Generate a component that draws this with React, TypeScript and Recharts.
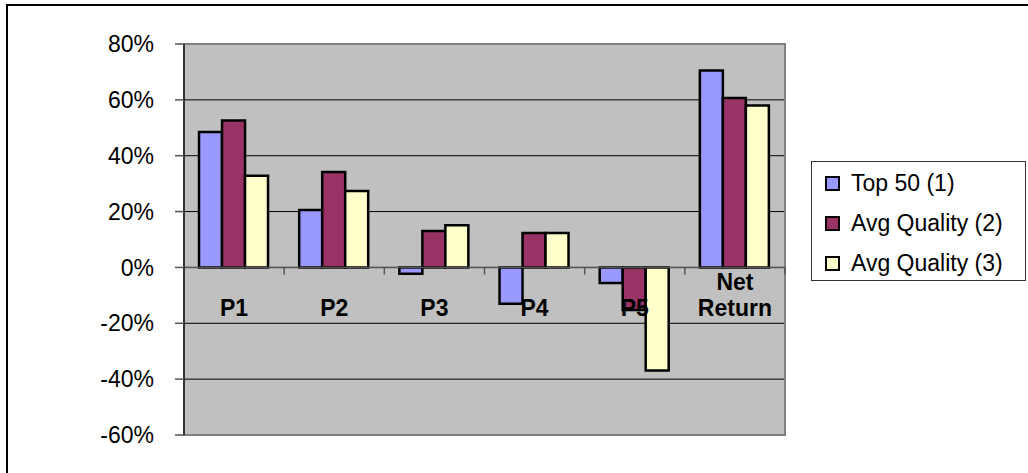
import { Bar, BarChart, CartesianGrid, Legend, ReferenceArea, ReferenceLine, XAxis, YAxis } from 'recharts';

const categories = ['P1', 'P2', 'P3', 'P4', 'P5', 'Net Return'];
const top50 = [48.5, 20.6, -2.3, -13.0, -5.6, 70.5];
const avgQuality2 = [52.6, 34.2, 13.0, 12.3, -15.2, 60.7];
const avgQuality3 = [32.8, 27.4, 15.1, 12.3, -36.9, 58.0];
const yTicks = [-60, -40, -20, 0, 20, 40, 60, 80];

const seriesNames = ['Top 50 (1)', 'Avg Quality (2)', 'Avg Quality (3)'];
const seriesColors = ['#9999FF', '#993366', '#FFFFCC'];

const data = categories.map((name, i) => ({
    name,
    s1: top50[i],
    s2: avgQuality2[i],
    s3: avgQuality3[i],
}));

const W = 1028;
const H = 473;
const MARGIN = { top: 44, right: 28, bottom: 37, left: 0 };
const Y_AXIS_W = 184;
const LEGEND_W = 215;
const PLOT_H = H - MARGIN.top - MARGIN.bottom - 1;
const PLOT_W = W - Y_AXIS_W - MARGIN.right - LEGEND_W;
const Y_MIN = -60;
const Y_MAX = 80;
const ZERO_Y = MARGIN.top + ((Y_MAX - 0) / (Y_MAX - Y_MIN)) * PLOT_H;
const BAND = PLOT_W / categories.length;
const FONT = '"Liberation Sans", Arial, sans-serif';

const CategoryTick = (props: any) => {
    const { x, payload } = props;
    const lines = String(payload.value).split(' ');
    return (
        <g>
            <line x1={x + BAND / 2} x2={x + BAND / 2} y1={ZERO_Y} y2={ZERO_Y + 7} stroke="#555" strokeWidth={1.5} />
            <text textAnchor="middle" fontFamily={FONT} fontSize={23} fontWeight="bold" fill="#000">
                {lines.map((l, i) => (
                    <tspan key={i} x={x} y={ZERO_Y + 49 - (lines.length - 1 - i) * 26.5}>
                        {l}
                    </tspan>
                ))}
            </text>
        </g>
    );
};

const LegendBox = () => (
    <div
        style={{
            width: LEGEND_W,
            height: 120,
            boxSizing: 'border-box',
            border: '1px solid #333',
            background: '#fff',
            fontFamily: FONT,
            fontSize: 23,
            color: '#000',
            paddingTop: 1,
        }}
    >
        {seriesNames.map((n, i) => (
            <div key={n} style={{ height: 40, display: 'flex', alignItems: 'center' }}>
                <span
                    style={{
                        display: 'inline-block',
                        width: 11,
                        height: 11,
                        marginLeft: 13,
                        marginRight: 11,
                        border: '2px solid #000',
                        background: seriesColors[i],
                    }}
                />
                <span>{n}</span>
            </div>
        ))}
    </div>
);

export default function App() {
    return (
        <div style={{ position: 'absolute', left: 0, top: 0, width: W, height: H, overflow: 'hidden', background: '#fff' }}>
            <div
                style={{
                    position: 'absolute',
                    left: 6,
                    top: 4,
                    width: W + 20,
                    height: H + 20,
                    borderLeft: '2px solid #000',
                    borderTop: '2px solid #000',
                }}
            />
            <div style={{ position: 'absolute', left: 0, top: 0 }}>
                <BarChart width={W} height={H} data={data} margin={MARGIN} barCategoryGap="15%" barGap={0}>
                    <CartesianGrid vertical={false} stroke="#000" fill="#C0C0C0" fillOpacity={1} />
                    <ReferenceArea y1={Y_MIN} y2={Y_MAX} fill="none" stroke="#808080" strokeWidth={2} />
                    <ReferenceLine y={0} stroke="#555" strokeWidth={1.5} />
                    <YAxis
                        width={Y_AXIS_W}
                        domain={[Y_MIN, Y_MAX]}
                        ticks={yTicks}
                        interval={0}
                        tickFormatter={(v: number) => `${v}%`}
                        tickSize={9}
                        tickMargin={21}
                        axisLine={{ stroke: '#333', strokeWidth: 2 }}
                        tickLine={{ stroke: '#555', strokeWidth: 1.5 }}
                        tick={{ fill: '#000', fontSize: 23, fontFamily: FONT }}
                    />
                    {['s1', 's2', 's3'].map((k, i) => (
                        <Bar
                            key={k}
                            dataKey={k}
                            name={seriesNames[i]}
                            fill={seriesColors[i]}
                            stroke="#000"
                            strokeWidth={2.5}
                            isAnimationActive={false}
                        />
                    ))}
                    <XAxis
                        dataKey="name"
                        height={1}
                        axisLine={false}
                        tickLine={false}
                        interval={0}
                        tick={<CategoryTick />}
                    />
                    <Legend
                        layout="vertical"
                        align="right"
                        verticalAlign="middle"
                        content={<LegendBox />}
                        wrapperStyle={{ left: 811, top: 161, right: 'auto', width: LEGEND_W }}
                    />
                </BarChart>
            </div>
        </div>
    );
}
